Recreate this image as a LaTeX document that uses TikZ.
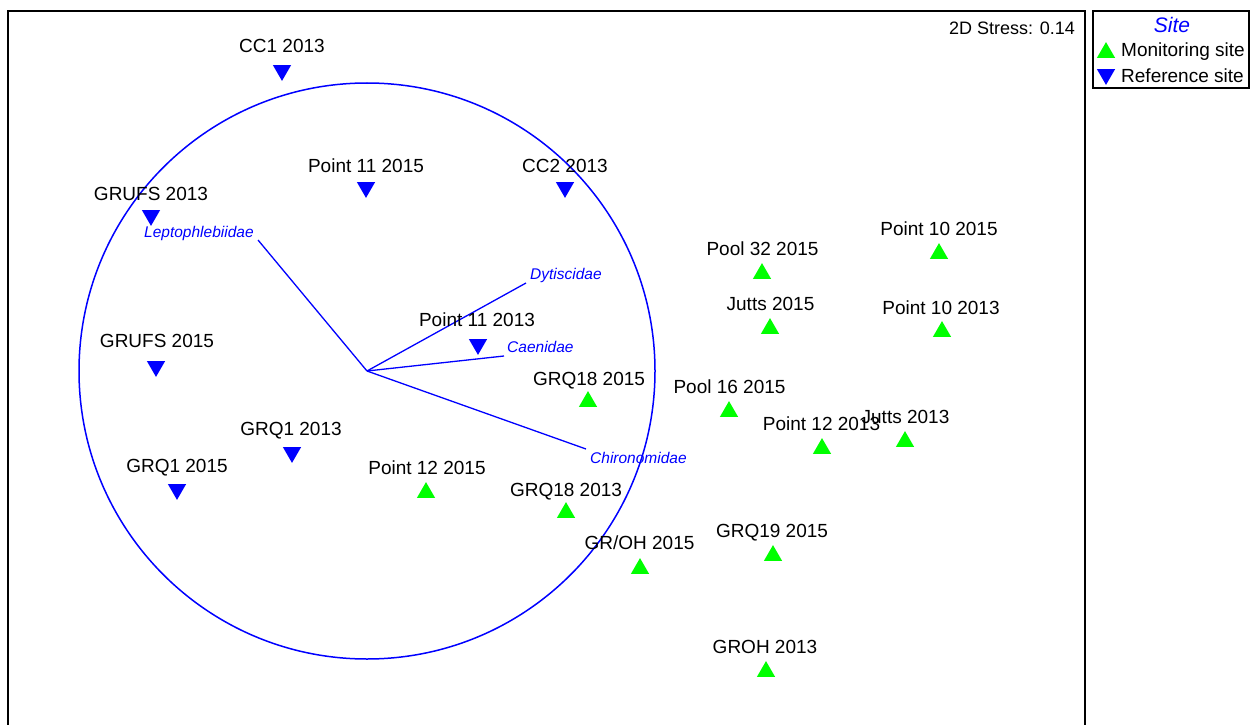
\documentclass[tikz,border=0pt]{standalone}
\usepackage{fontspec}
\setmainfont{Liberation Sans}
\usetikzlibrary{shapes.geometric}
\definecolor{mgreen}{RGB}{0,255,0}
\definecolor{mblue}{RGB}{0,0,255}
\begin{document}
\begin{tikzpicture}[x=1pt,y=-1pt,
 mon/.style={regular polygon, regular polygon sides=3, minimum size=21pt, inner sep=0pt, fill=mgreen, yshift=-2.6pt},
 ref/.style={regular polygon, regular polygon sides=3, shape border rotate=180, minimum size=21pt, inner sep=0pt, fill=mblue, yshift=2.6pt},
 lab/.style={anchor=base, inner sep=0pt, font=\fontsize{19}{19}\selectfont},
 vlab/.style={anchor=west, inner sep=0pt, text=mblue, font=\fontsize{15.5}{15.5}\selectfont\itshape},
 vec/.style={mblue, line width=1.3pt},
 frame/.style={black, line width=1.6pt}]
\useasboundingbox (0,0) rectangle (1259,725);
\fill[white] (0,0) rectangle (1259,725);
% plot frame
\draw[frame] (8,727) -- (8,11) -- (1085,11) -- (1085,727);
\node[anchor=base east, inner sep=0pt, font=\fontsize{18}{18}\selectfont] (stress) at (1075,35) {2D Stress: 0.14};
% legend
\draw[frame] (1093,11) rectangle (1249,88);
\node[anchor=base, inner sep=0pt, text=mblue, font=\fontsize{21}{21}\selectfont\itshape] (legtitle) at (1172,33) {Site};
\node[mon] (legmon) at (1106,50) {};
\node[ref] (legref) at (1106,77) {};
\node[anchor=base west, inner sep=0pt, font=\fontsize{19}{19}\selectfont] (legmont) at (1121,57) {Monitoring site};
\node[anchor=base west, inner sep=0pt, font=\fontsize{19}{19}\selectfont] (legreft) at (1121,83) {Reference site};
% circle and vectors
\coordinate (c) at (367,371);
\draw[mblue, line width=1.5pt] (c) circle[radius=288pt];
\coordinate (eLep) at (258,240);
\coordinate (eDyt) at (526,283);
\coordinate (eCae) at (504,356);
\coordinate (eChi) at (586,449);
\draw[vec] (c) -- (eLep);
\draw[vec] (c) -- (eDyt);
\draw[vec] (c) -- (eCae);
\draw[vec] (c) -- (eChi);
\node[vlab] (lLep) at (144,233) {Leptophlebiidae};
\node[vlab] (lDyt) at (530,275) {Dytiscidae};
\node[vlab] (lCae) at (507,347) {Caenidae};
\node[vlab] (lChi) at (590,458) {Chironomidae};
% reference sites
\node[ref] (m1) at (282,73) {};   \node[lab] (t1) at (282,52.5) {CC1 2013};
\node[ref] (m2) at (366,190) {};  \node[lab] (t2) at (366,172.5) {Point 11 2015};
\node[ref] (m3) at (565,190) {};  \node[lab] (t3) at (565,172.5) {CC2 2013};
\node[ref] (m4) at (151,218) {};  \node[lab] (t4) at (151,200.5) {GRUFS 2013};
\node[ref] (m5) at (156,369) {};  \node[lab] (t5) at (157,347.5) {GRUFS 2015};
\node[ref] (m6) at (478,347) {};  \node[lab] (t6) at (477,326.5) {Point 11 2013};
\node[ref] (m7) at (292,455) {};  \node[lab] (t7) at (291,435.5) {GRQ1 2013};
\node[ref] (m8) at (177,492) {};  \node[lab] (t8) at (177,472.5) {GRQ1 2015};
% monitoring sites
\node[mon] (n1) at (426,490) {};  \node[lab] (u1) at (427,474.5) {Point 12 2015};
\node[mon] (n2) at (588,399) {};  \node[lab] (u2) at (589,385) {GRQ18 2015};
\node[mon] (n3) at (566,510) {};  \node[lab] (u3) at (566,496.5) {GRQ18 2013};
\node[mon] (n4) at (640,566) {};  \node[lab] (u4) at (639.5,549.5) {GR/OH 2015};
\node[mon] (n5) at (762,271) {};  \node[lab] (u5) at (762.5,255.5) {Pool 32 2015};
\node[mon] (n6) at (770,326) {};  \node[lab] (u6) at (770.5,310.5) {Jutts 2015};
\node[mon] (n7) at (939,251) {};  \node[lab] (u7) at (939,235.5) {Point 10 2015};
\node[mon] (n8) at (942,329) {};  \node[lab] (u8) at (941,314.5) {Point 10 2013};
\node[mon] (n9) at (729,409) {};  \node[lab] (u9) at (729.5,393.5) {Pool 16 2015};
\node[mon] (n10) at (822,446) {}; \node[lab] (u10) at (821.5,430.5) {Point 12 2013};
\node[mon] (n11) at (905,439) {}; \node[lab] (u11) at (905.5,423.5) {Jutts 2013};
\node[mon] (n12) at (773,553) {}; \node[lab] (u12) at (772,537.5) {GRQ19 2015};
\node[mon] (n13) at (766,669) {}; \node[lab] (u13) at (765,653.5) {GROH 2013};
\end{tikzpicture}
\end{document}
